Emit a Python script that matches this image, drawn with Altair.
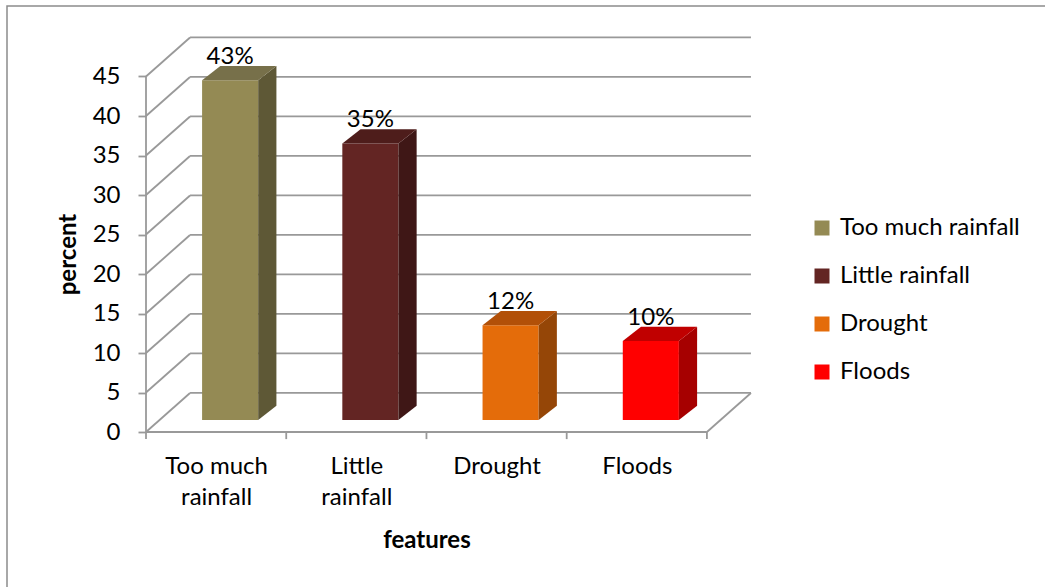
import altair as alt
import pandas as pd

# ---- data ----
categories = ["Too much rainfall", "Little rainfall", "Drought", "Floods"]
axis_labels = [["Too much", "rainfall"], ["Little", "rainfall"], ["Drought"], ["Floods"]]
values = [43, 35, 12, 10]
front_colors = ["#948A54", "#632523", "#E46C0A", "#FF0000"]
side_colors = ["#5E5836", "#3F1716", "#954607", "#A60000"]
top_colors = ["#77704A", "#4E1D1B", "#B25008", "#C00000"]
y_ticks = [0, 5, 10, 15, 20, 25, 30, 35, 40, 45]

# ---- 3-D geometry (data units) ----
DX, DY = 0.314, 4.94        # back wall offset
OX, OY = 0.10, 1.52         # bar front face offset from front plane
HW = 0.20                   # half width of bar front face
BDX, BDY = 0.13, 1.8        # bar depth
XDOM = [0, 4.35]
YDOM = [0, 50]
GRID = "#999999"
FONT = "Lato"

n = len(categories)
fronts, sides, tops, labels = [], [], [], []
for i, (c, v) in enumerate(zip(categories, values)):
    x0 = i + 0.5 + OX - HW
    x1 = i + 0.5 + OX + HW
    fronts.append(dict(cat=c, x=x0, x2=x1, y=OY, y2=OY + v))
    sides.append(dict(cat=c, col=side_colors[i], x=x1, y=OY, y2=OY + v))
    sides.append(dict(cat=c, col=side_colors[i], x=x1 + BDX, y=OY + BDY, y2=OY + BDY + v))
    tops.append(dict(cat=c, col=top_colors[i], y=OY + v, x=x0, x2=x1))
    tops.append(dict(cat=c, col=top_colors[i], y=OY + BDY + v, x=x0 + BDX, x2=x1 + BDX))
    labels.append(dict(cat=c, x=i + 0.5 + OX, y=OY + BDY + v, t=f"{v}%"))

fronts = pd.DataFrame(fronts)
sides = pd.DataFrame(sides)
tops = pd.DataFrame(tops)
labels = pd.DataFrame(labels)

left_wall = pd.DataFrame({"x": [0] * len(y_ticks), "x2": [DX] * len(y_ticks),
                          "y": y_ticks, "y2": [t + DY for t in y_ticks]})
back_wall = pd.DataFrame({"x": [DX] * len(y_ticks), "x2": [n + DX] * len(y_ticks),
                          "y": [t + DY for t in y_ticks]})
edges = pd.DataFrame({"x": [n, 0, 0], "x2": [n + DX, n, 0],
                      "y": [0, 0, 0], "y2": [DY, 0, y_ticks[-1]]})
xticks = pd.DataFrame({"x": list(range(n + 1)), "y0": [0] * (n + 1), "y1": [-0.9] * (n + 1)})

xs = alt.Scale(domain=XDOM, nice=False, zero=False)
ys = alt.Scale(domain=YDOM, nice=False, zero=False)

# label expression for category axis
parts = []
for i, lab in enumerate(axis_labels):
    txt = "[" + ",".join("'" + s + "'" for s in lab) + "]"
    parts.append((i + 0.5, txt))
expr = "''"
for pos, txt in reversed(parts):
    expr = f"datum.value == {pos} ? {txt} : ({expr})"

base_x_axis = alt.Axis(values=[i + 0.5 for i in range(n)], labelExpr=expr, ticks=False,
                       domain=False, grid=False, labelFontSize=24, labelLineHeight=31,
                       labelPadding=22, labelColor="black", title="features",
                       titleFontSize=24, titleFontWeight="bold", titleX=n / 2 * 140.23,
                       titleY=108, titleBaseline="middle", titleColor="black")
base_y_axis = alt.Axis(values=y_ticks, domain=False, grid=False, tickSize=8, tickColor=GRID,
                       tickWidth=1.8, labelFontSize=24, labelPadding=18, labelColor="black",
                       title="percent", titleFontSize=24, titleFontWeight="bold",
                       titleX=-78, titleY=217, titleBaseline="middle", titleColor="black")

X = lambda f: alt.X(f, scale=xs, axis=base_x_axis)
Y = lambda f: alt.Y(f, scale=ys, axis=base_y_axis)

walls_l = alt.Chart(left_wall).mark_rule(color=GRID, strokeWidth=1.8).encode(
    x=X("x:Q"), x2="x2", y=Y("y:Q"), y2="y2")
walls_b = alt.Chart(back_wall).mark_rule(color=GRID, strokeWidth=1.8).encode(
    x=X("x:Q"), x2="x2", y=Y("y:Q"))
edge = alt.Chart(edges).mark_rule(color=GRID, strokeWidth=1.8).encode(
    x=X("x:Q"), x2="x2", y=Y("y:Q"), y2="y2")
ticks = alt.Chart(xticks).mark_rule(color=GRID, strokeWidth=1.8).encode(
    x=X("x:Q"), y=Y("y0:Q"), y2="y1:Q")

front = alt.Chart(fronts).mark_bar().encode(
    x=X("x:Q"), x2="x2", y=Y("y:Q"), y2="y2",
    color=alt.Color("cat:N", scale=alt.Scale(domain=categories, range=front_colors),
                    sort=categories,
                    legend=alt.Legend(title=None, orient="none", legendX=664, legendY=179,
                                      symbolType="square", symbolSize=225,
                                      symbolStrokeWidth=0, labelFontSize=24, labelLimit=0,
                                      labelOffset=6, rowPadding=24, labelColor="black",
                                      labelFont=FONT)))
side = alt.Chart(sides).mark_area(orient="vertical").encode(
    x=X("x:Q"), y=Y("y:Q"), y2="y2",
    detail="cat:N", fill=alt.Fill("col:N", scale=None))
top = alt.Chart(tops).mark_area(orient="horizontal").encode(
    y=Y("y:Q"), x=X("x:Q"), x2="x2",
    detail="cat:N", fill=alt.Fill("col:N", scale=None))
text = alt.Chart(labels).mark_text(baseline="alphabetic", dy=-2, fontSize=24, color="black",
                                   font=FONT).encode(
    x=X("x:Q"), y=Y("y:Q"), text="t:N")

border = alt.Chart(pd.DataFrame({"a": [0]})).mark_rect(fill=None, stroke="#8c8c8c",
                                                       strokeWidth=1.5).encode(
    x=alt.value(-139), y=alt.value(-31), x2=alt.value(1045 - 146 + 10),
    y2=alt.value(587 - 37 + 10))

chart = alt.layer(border, walls_l, walls_b, edge, ticks, front, side, top, text).properties(
    width=610, height=395,
    padding={"left": 146, "top": 37, "right": 289, "bottom": 155},
    autosize=alt.AutoSizeParams(type="none"),
).configure(font=FONT).configure_view(stroke=None).configure_axis(labelFont=FONT, titleFont=FONT)

chart.save("out.html", embed_options={"renderer": "svg", "actions": False})
